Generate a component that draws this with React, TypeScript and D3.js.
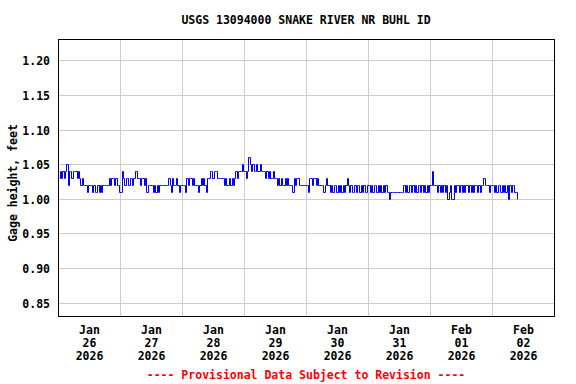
import React from 'react';
import * as d3 from 'd3';

const TITLE = 'USGS 13094000 SNAKE RIVER NR BUHL ID';
const Y_LABEL = 'Gage height, feet';
const FOOTNOTE = '---- Provisional Data Subject to Revision ----';

// day tick labels
const TICK_MONTHS = ['Jan', 'Jan', 'Jan', 'Jan', 'Jan', 'Jan', 'Feb', 'Feb'];
const TICK_DAYS = ['26', '27', '28', '29', '30', '31', '01', '02'];
const TICK_YEARS = ['2026', '2026', '2026', '2026', '2026', '2026', '2026', '2026'];
const Y_TICKS = [0.85, 0.9, 0.95, 1.0, 1.05, 1.1, 1.15, 1.2];

// half-hourly gage height readings, in hundredths of a foot above 1.00 ft
const jan26 = '343434524434443432322212221211212122222323323221';
const jan27 = '143233233234433233231222212121222222232132232122';
const jan28 = '221323323222123232133443444333332322323234344454';
const jan29 = '434654544544544434343343323232232322213233222222';
const jan30 = '213323323222212322121221212121232121121221212112';
const jan31 = '212122121212121101111111111212122121212212121212';
const feb01 = '242221212121201200212212121221212122121223222122';
const feb02 = '21212212121202122110';
const DAILY = [jan26, jan27, jan28, jan29, jan30, jan31, feb01, feb02];

const W = 576;
const H = 384;
const FONT = "'DejaVu Sans Mono', 'Liberation Mono', monospace";

export default function App() {
  const start = new Date(2026, 0, 26);
  const end = new Date(2026, 1, 3);
  const x = d3.scaleTime().domain([start, end]).range([58.5, 554.5]);
  const y = d3.scaleLinear().domain([0.83, 1.23]).range([316.5, 39.5]);

  const data: { t: Date; v: number }[] = [];
  DAILY.forEach((s, d) => {
    const day = d3.timeDay.offset(start, d);
    s.split('').forEach((ch, i) => {
      data.push({ t: d3.timeMinute.offset(day, i * 30), v: 1 + Number(ch) / 100 });
    });
  });

  const line = d3
    .line<{ t: Date; v: number }>()
    .x((d) => Math.round(x(d.t)) + 0.5)
    .y((d) => Math.round(y(d.v)) + 0.5)
    .curve(d3.curveStepAfter);

  const days = d3.timeDay.range(start, end);
  const [x0, x1] = x.range();
  const [y0, y1] = y.range();

  return (
    <svg
      width={W}
      height={H}
      viewBox={`0 0 ${W} ${H}`}
      style={{ position: 'absolute', left: 0, top: 0, background: '#fff' }}
    >
      <rect x={0} y={0} width={W} height={H} fill="#fff" />
      <text x={306} y={24} textAnchor="middle" fontFamily={FONT} fontWeight="bold" fontSize={11.5} fill="#000">
        {TITLE}
      </text>
      {/* grid */}
      <g stroke="#cccccc" strokeWidth={1} shapeRendering="crispEdges">
        {days.slice(1).map((d, i) => (
          <line key={'gx' + i} x1={x(d)} x2={x(d)} y1={y1} y2={y0} />
        ))}
        {Y_TICKS.map((t, i) => (
          <line key={'gy' + i} x1={x0} x2={x1} y1={Math.round(y(t)) + 0.5} y2={Math.round(y(t)) + 0.5} />
        ))}
      </g>
      {/* data */}
      <path d={line(data) || ''} fill="none" stroke="#0000ff" strokeWidth={1} />
      {/* frame */}
      <rect x={x0} y={y1} width={x1 - x0} height={y0 - y1} fill="none" stroke="#000" strokeWidth={1} shapeRendering="crispEdges" />
      {/* y tick labels */}
      {Y_TICKS.map((t, i) => (
        <text key={'yl' + i} x={50} y={Math.round(y(t)) + 4.5} textAnchor="end" fontFamily={FONT} fontWeight="bold" fontSize={11.5} fill="#000">
          {t.toFixed(2)}
        </text>
      ))}
      <text
        transform="translate(16.5,183) rotate(-90)"
        textAnchor="middle"
        fontFamily={FONT}
        fontWeight="bold"
        fontSize={11.5}
        fill="#000"
      >
        {Y_LABEL}
      </text>
      {/* x tick labels */}
      {days.map((d, i) => {
        const cx = x(d3.timeHour.offset(d, 12));
        return (
          <g key={'xl' + i} fontFamily={FONT} fontWeight="bold" fontSize={11.5} fill="#000" textAnchor="middle">
            <text x={cx} y={334}>{TICK_MONTHS[i]}</text>
            <text x={cx} y={347}>{TICK_DAYS[i]}</text>
            <text x={cx} y={360}>{TICK_YEARS[i]}</text>
          </g>
        );
      })}
      <text x={306} y={379} textAnchor="middle" fontFamily={FONT} fontWeight="bold" fontSize={11.5} fill="#ff0000">
        {FOOTNOTE}
      </text>
    </svg>
  );
}
